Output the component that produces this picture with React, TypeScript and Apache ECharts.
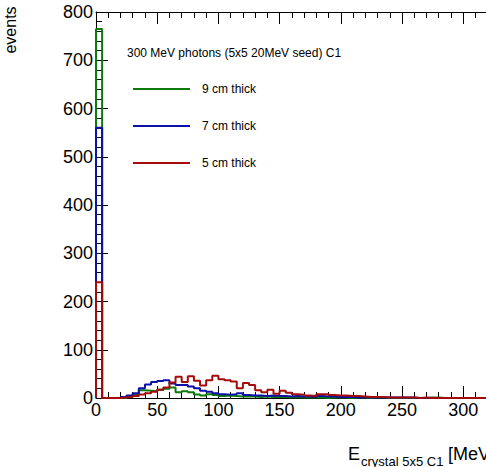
import React, { useEffect, useRef } from "react";
import * as echarts from "echarts";

// Histogram binning (MeV)
const BIN_WIDTH = 5;
const X_MAX = 330;
const Y_MAX = 800;

// Counts per 5 MeV bin, starting at 0 MeV
const thick9cm = [
  765, 0, 0, 0, 0, 4, 8, 16, 15, 14, 17, 19, 22, 12, 14, 12, 7, 5, 8, 6,
  4, 5, 4, 3, 3, 3, 2, 3, 2, 2, 2, 1, 2, 1, 1, 1, 1, 0, 1, 1,
  1, 0, 1, 1, 0, 1, 1, 0, 0, 0, 0, 0, 0, 0, 1, 1, 0,
];
const thick7cm = [
  560, 0, 0, 0, 2, 5, 10, 20, 28, 33, 35, 37, 30, 27, 27, 24, 20, 15, 13, 10,
  8, 7, 8, 10, 6, 5, 5, 4, 5, 4, 4, 3, 4, 3, 3, 2, 4, 3, 3, 2,
  2, 2, 1, 2, 1, 1, 1, 1, 1, 1, 1, 1, 0,
];
const thick5cm = [
  240, 0, 0, 0, 1, 2, 4, 7, 10, 13, 17, 22, 32, 44, 33, 45, 36, 26, 37, 46,
  39, 37, 34, 20, 31, 27, 16, 12, 17, 9, 15, 11, 8, 7, 5, 4, 8, 8, 6, 5,
  5, 4, 4, 3, 2, 2, 2, 1, 1, 1, 1, 1, 0, 1, 0,
];

const seriesNames = ["9 cm thick", "7 cm thick", "5 cm thick"];
const seriesColors = ["#0b7a0b", "#0c10a6", "#a50b0b"];
const seriesCounts = [thick9cm, thick7cm, thick5cm];

const legendTitle = "300 MeV photons (5x5 20MeV seed) C1";
const yTitle = "events";

const FONT = "'Liberation Sans', Arial, Helvetica, sans-serif";

// Step outline of a histogram: bin left edges with their counts, closed at X_MAX
function histPoints(counts: number[]): number[][] {
  const nBins = Math.round(X_MAX / BIN_WIDTH);
  const pts: number[][] = [[0, 0]];
  for (let i = 0; i < nBins; i++) pts.push([i * BIN_WIDTH, counts[i] ?? 0]);
  pts.push([X_MAX, counts[nBins - 1] ?? 0]);
  return pts;
}

export default function App() {
  const ref = useRef<HTMLDivElement>(null);

  useEffect(() => {
    if (!ref.current) return;
    const chart = echarts.init(ref.current, undefined, { renderer: "svg" });

    const axisCommon = {
      type: "value" as const,
      axisLine: { show: true, onZero: false, lineStyle: { color: "#000", width: 1 } },
      axisTick: { show: true, inside: true, length: 12, lineStyle: { color: "#000" } },
      minorTick: { show: true, splitNumber: 5, length: 6, lineStyle: { color: "#000" } },
      splitLine: { show: false },
      minorSplitLine: { show: false },
    };

    const legendGraphics: any[] = [];
    seriesNames.forEach((name, i) => {
      const y = 89 + i * 37;
      legendGraphics.push({
        type: "line",
        shape: { x1: 133, y1: y, x2: 190, y2: y },
        style: { stroke: seriesColors[i], lineWidth: 2 },
      });
      legendGraphics.push({
        type: "text",
        x: 202,
        y,
        style: { text: name, fontSize: 12, fontFamily: FONT, fill: "#000", textVerticalAlign: "middle" },
      });
    });

    chart.setOption({
      animation: false,
      backgroundColor: "#fff",
      grid: { left: 96, top: 12, width: X_MAX * 1.224, bottom: 69, containLabel: false },
      xAxis: [
        {
          ...axisCommon,
          position: "bottom",
          min: 0,
          max: X_MAX,
          interval: 50,
          axisLabel: {
            show: true,
            fontSize: 18,
            fontFamily: FONT,
            color: "#000",
            margin: 3,
            showMaxLabel: false,
          },
        },
        {
          ...axisCommon,
          position: "top",
          min: 0,
          max: X_MAX,
          interval: 50,
          axisLabel: { show: false },
        },
      ],
      yAxis: [
        {
          ...axisCommon,
          position: "left",
          min: 0,
          max: Y_MAX,
          interval: 100,
          axisLabel: { show: true, fontSize: 18, fontFamily: FONT, color: "#000", margin: 3 },
        },
      ],
      series: seriesNames.map((name, i) => ({
        name,
        type: "line",
        step: "end",
        showSymbol: false,
        symbol: "none",
        data: histPoints(seriesCounts[i]),
        lineStyle: { color: seriesColors[i], width: 2 },
        itemStyle: { color: seriesColors[i] },
        z: 2 + i,
      })),
      graphic: [
        {
          type: "text",
          x: 10,
          y: 30,
          rotation: Math.PI / 2,
          style: {
            text: yTitle,
            fontSize: 16,
            fontFamily: FONT,
            fill: "#000",
            textAlign: "center",
            textVerticalAlign: "middle",
          },
        },
        {
          type: "text",
          x: 127,
          y: 53,
          style: { text: legendTitle, fontSize: 12, fontFamily: FONT, fill: "#000", textVerticalAlign: "middle" },
        },
        ...legendGraphics,
        {
          type: "text",
          x: 348,
          y: 454,
          style: { text: "E", fontSize: 18, fontFamily: FONT, fill: "#000", textVerticalAlign: "middle" },
        },
        {
          type: "text",
          x: 361,
          y: 461,
          style: { text: "crystal 5x5 C1", fontSize: 13, fontFamily: FONT, fill: "#000", textVerticalAlign: "middle" },
        },
        {
          type: "text",
          x: 448,
          y: 454,
          style: { text: "[MeV]", fontSize: 18, fontFamily: FONT, fill: "#000", textVerticalAlign: "middle" },
        },
      ],
    });

    return () => chart.dispose();
  }, []);

  return (
    <div style={{ position: "absolute", left: 0, top: 0, width: 486, height: 467, overflow: "hidden", background: "#fff" }}>
      <div ref={ref} style={{ width: 620, height: 467 }} />
    </div>
  );
}
